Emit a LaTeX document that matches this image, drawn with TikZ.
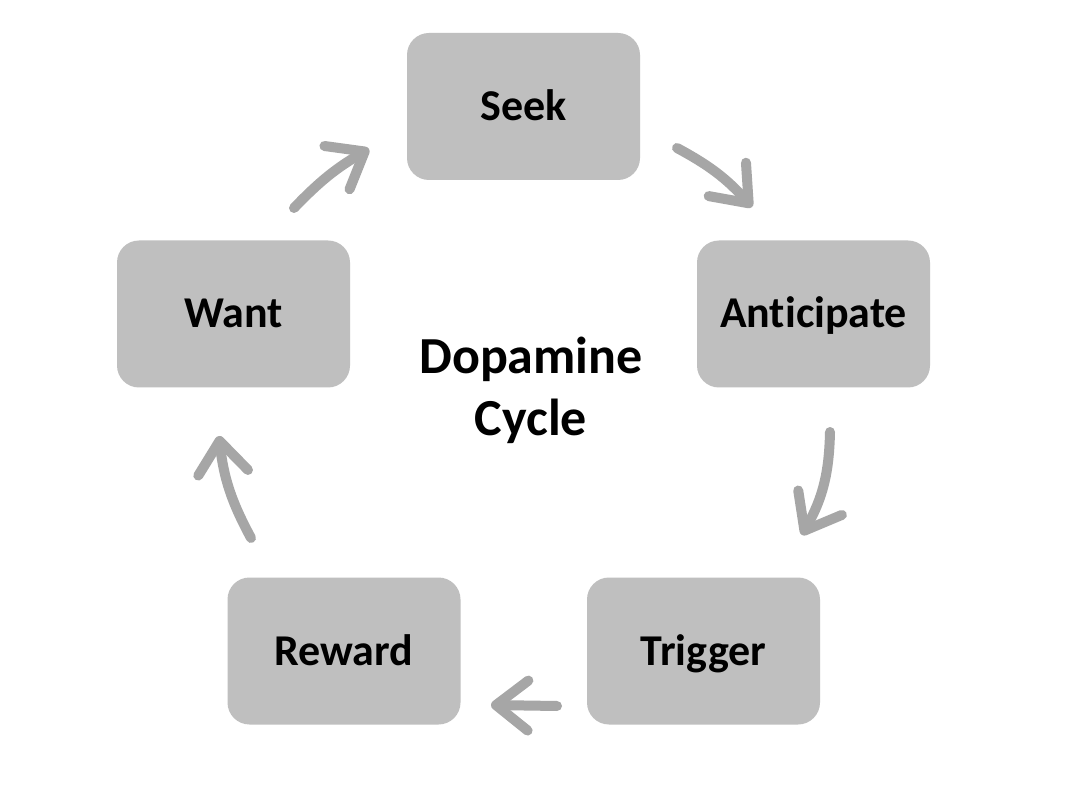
\documentclass[tikz,border=0pt]{standalone}
\usepackage{fontspec}
\setmainfont[Ligatures={NoCommon}]{Carlito}
\usetikzlibrary{arrows.meta}
\definecolor{boxgray}{HTML}{BFBFBF}
\definecolor{arrowgray}{HTML}{A6A6A6}
\tikzset{
  stagebox/.style={draw=none, fill=boxgray, rounded corners=22pt, minimum width=233pt, minimum height=147pt, inner sep=0pt, text height=30pt, text depth=2pt, font=\fontsize{44}{53}\selectfont\bfseries},
  cyclearrow/.style={draw=arrowgray, line width=10pt, line cap=round, -{Straight Barb[length=32pt, width=50pt, round]}}
}
\begin{document}
\begin{tikzpicture}[x=1pt, y=-1pt]
\useasboundingbox (0,0) rectangle (1072,810);
\fill[white] (0,0) rectangle (1072,810);
\node[stagebox] (seek) at (523.5,106.5) {Seek};
\node[stagebox] (antic) at (813.5,314) {Anticipate};
\node[stagebox] (trig) at (703.5,651) {Trigger};
\node[stagebox] (rew) at (344,651) {Reward};
\node[stagebox] (want) at (233.5,314) {Want};
\node[align=center, font=\fontsize{52}{62}\selectfont\bfseries] (title) at (531,390) {Dopamine\\Cycle};
\coordinate (a1s) at (677,148);
\coordinate (a1e) at (752,207);
\coordinate (a2s) at (830,432);
\coordinate (a2e) at (802,535);
\coordinate (a3s) at (557,706);
\coordinate (a3e) at (491,705);
\coordinate (a4s) at (251,538);
\coordinate (a4e) at (219,436);
\coordinate (a5s) at (294,208);
\coordinate (a5e) at (369,149);
\draw[cyclearrow] (a1s) to[bend left=10] (a1e);
\draw[cyclearrow] (a2s) to[bend left=14] (a2e);
\draw[cyclearrow] (a3s) -- (a3e);
\draw[cyclearrow] (a4s) to[bend left=11] (a4e);
\draw[cyclearrow] (a5s) to[bend left=8] (a5e);
\end{tikzpicture}
\end{document}
